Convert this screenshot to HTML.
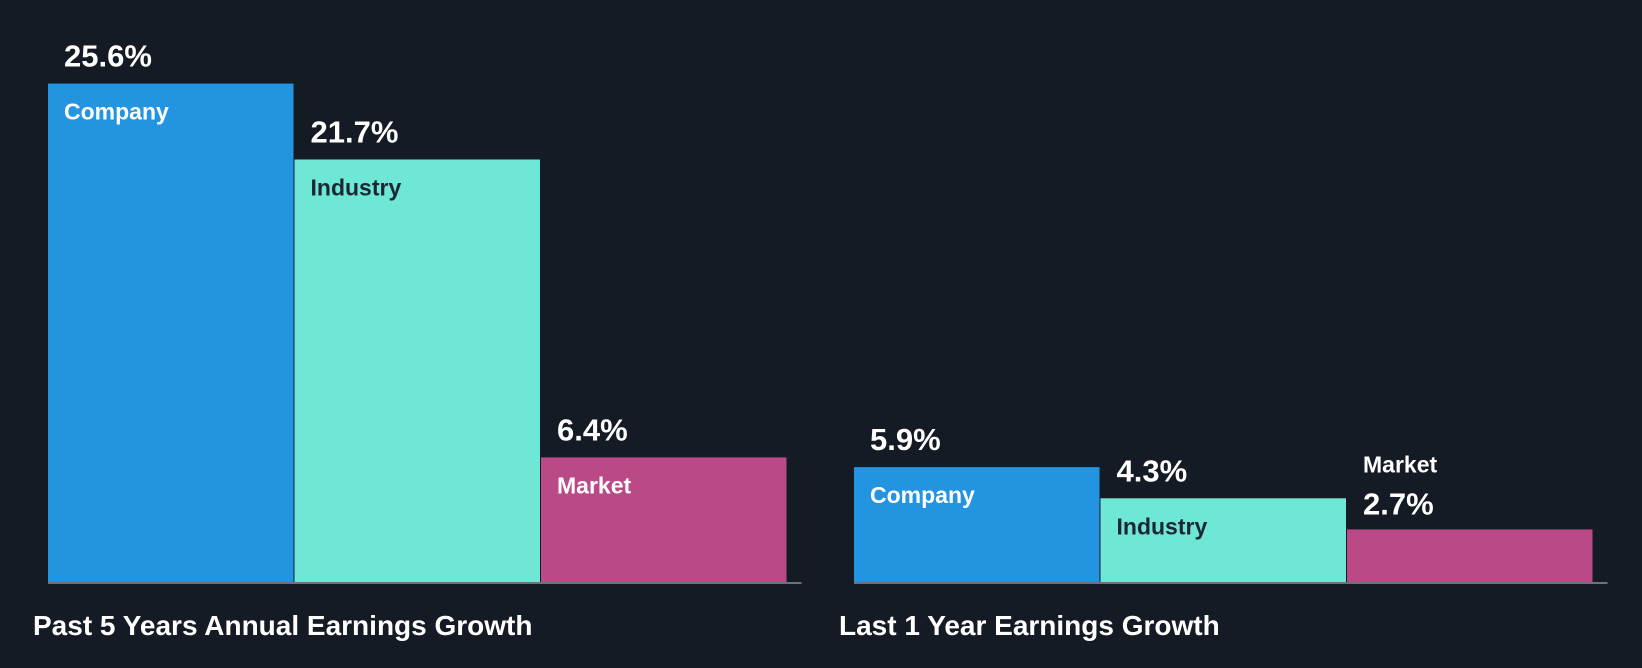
<!DOCTYPE html>
<html><head><meta charset="utf-8">
<style>
html,body{margin:0;padding:0;background:#151b24;}
svg{display:block;font-family:"Liberation Sans",Arial,sans-serif;}
</style></head>
<body>
<svg id="chart" width="1642" height="668" viewBox="0 0 1642 668">
<rect x="0" y="0" width="1642" height="668" fill="#151b24"/>
</svg>
<script>
const groups = ["Past 5 Years Annual Earnings Growth", "Last 1 Year Earnings Growth"];
const categories = ["Company", "Industry", "Market"];
const past5Values = [25.6, 21.7, 6.4];
const last1Values = [5.9, 4.3, 2.7];
const seriesValues = [past5Values, last1Values];

const svg = document.getElementById('chart');
const NS = 'http://www.w3.org/2000/svg';
const baseY = 582, pxPerUnit = 19.47;
const groupX = [48, 854], barW = 246.5;
const colors = ["#2394df", "#6ee7d6", "#b94a87"];
const textColors = ["#ffffff", "#1c2733", "#ffffff"];
function yScale(v){ return baseY - v * pxPerUnit; }
function el(tag, attrs){ const e = document.createElementNS(NS, tag); for (const k in attrs) e.setAttribute(k, attrs[k]); svg.appendChild(e); return e; }

groups.forEach((g, gi) => {
  const x0 = groupX[gi];
  seriesValues[gi].forEach((v, i) => {
    const x = x0 + i * barW, top = yScale(v), h = baseY - top;
    const r = el('rect', {x: x, y: top, width: barW - 1, height: h, fill: colors[i]});
    
    
    const small = h < 80;
    const valY = small ? top - 15 : top - 17;
    const vt = el('text', {x: x + 16, y: valY, fill: '#ffffff', 'font-size': 31, 'font-weight': 'bold'});
    vt.textContent = v.toFixed(1) + '%';
    
    
    const lt = el('text', {x: x + 16, y: small ? valY - 42 : top + 36, fill: small ? '#ffffff' : textColors[i], 'font-size': 23, 'font-weight': 'bold'});
    lt.textContent = categories[i];
    
    
  });
  const ax = el('line', {x1: x0, x2: x0 + 3 * barW + 14, y1: baseY + 1, y2: baseY + 1, stroke: '#8a8f96', 'stroke-width': 1.5});
  
  
  const t = el('text', {x: x0 - 15, y: 635, fill: '#ffffff', 'font-size': 28, 'font-weight': 'bold'});
  t.textContent = g;
  
  
});
</script>
</body></html>
